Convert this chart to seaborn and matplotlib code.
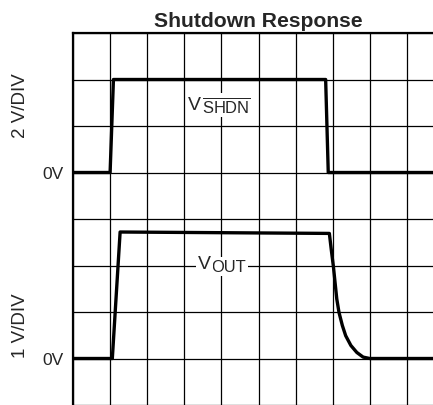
import numpy as np
import pandas as pd
import matplotlib
matplotlib.use("Agg")
import matplotlib.pyplot as plt
import seaborn as sns

# datos (x en divisiones, y en divisiones)
shdn_x = [0.0, 1.0, 1.09, 6.81, 6.88, 10.0]
shdn_y = [5.0, 5.0, 7.0, 7.0, 5.0, 5.0]

vout_x = [0.0, 1.06, 1.27, 6.91, 6.96, 7.02, 7.11, 7.17, 7.26, 7.35,
          7.49, 7.65, 7.82, 8.0, 10.0]
vout_y = [1.0, 1.0, 3.72, 3.69, 3.35, 2.97, 2.28, 1.99, 1.71, 1.49,
          1.28, 1.13, 1.03, 1.0, 1.0]

ytick_lab = ['', '0V', '', '', '', '0V', '', '', '']

sns.set_style("white")
plt.rcParams['font.family'] = ['Liberation Sans', 'DejaVu Sans']
plt.rcParams['mathtext.fontset'] = 'custom'
plt.rcParams['mathtext.rm'] = 'Liberation Sans'

fig = plt.figure(figsize=(4.33, 4.06), dpi=100)
ax = fig.add_axes([73/433, 0, 371/433, 372/406])

df1 = pd.DataFrame({'x': shdn_x, 'y': shdn_y})
df2 = pd.DataFrame({'x': vout_x, 'y': vout_y})
sns.lineplot(data=df1, x='x', y='y', ax=ax, color='black', lw=2.4,
             sort=False, estimator=None, solid_joinstyle='round')
sns.lineplot(data=df2, x='x', y='y', ax=ax, color='black', lw=2.4,
             sort=False, estimator=None, solid_joinstyle='round')

ax.set_xlim(0, 10)
ax.set_ylim(0, 8)
ax.set_xticks(range(0, 11))
ax.set_yticks(range(0, 9))
ax.set_xticklabels([])
ax.set_yticklabels(ytick_lab, fontsize=12.5)
ax.tick_params(length=0, pad=7)
ax.grid(True, color='black', lw=0.9)
ax.set_axisbelow(True)
ax.set_xlabel('')
ax.set_ylabel('')

for s in ['bottom', 'right']:
    ax.spines[s].set_visible(False)
for s in ['top', 'left']:
    ax.spines[s].set_color('black')
    ax.spines[s].set_linewidth(1.6)

ax.set_title('Shutdown Response', fontsize=15.2, fontweight='bold', pad=5)

# etiquetas de las trazas
box = dict(facecolor='white', edgecolor='none', pad=1.5)
ax.text(3.47, 6.30, r'$\overline{\mathrm{SHDN}}$', fontsize=11.9,
        ha='left', va='baseline', bbox=box, zorder=5)
ax.text(3.10, 6.37, 'V', fontsize=14, ha='left', va='baseline', bbox=box,
        zorder=6)
ax.text(3.73, 2.88, 'OUT', fontsize=11.9, ha='left', va='baseline',
        bbox=box, zorder=5)
ax.text(3.37, 2.95, 'V', fontsize=14, ha='left', va='baseline', bbox=box,
        zorder=6)

fig.text(20.8/433, 1 - 105.8/406, '2 V/DIV', rotation=90, ha='center',
         va='center', fontsize=13.5)
fig.text(20.8/433, 1 - 326/406, '1 V/DIV', rotation=90, ha='center',
         va='center', fontsize=13.5)

fig.savefig('out.png', dpi=100)
